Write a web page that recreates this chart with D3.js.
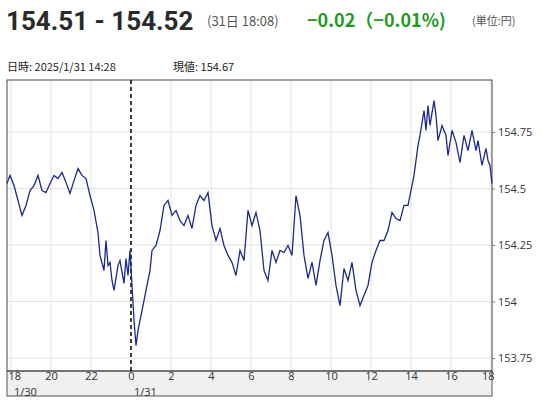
<!DOCTYPE html><html><head><meta charset="utf-8"><script src="https://cdn.jsdelivr.net/npm/d3@7"></script>
<style>body{margin:0;background:#fff;font-family:"Noto Sans CJK JP","Noto Sans",sans-serif}</style></head><body>
<svg id="c" width="541" height="400"></svg>
<script>
const hours=[0,.15,.35,.55,.75,.95,1.15,1.35,1.55,1.75,1.95,2.15,2.35,2.55,2.75,2.95,3.15,3.35,3.55,3.75,3.95,4.15,4.35,4.55,4.65,4.85,4.95,5.05,5.15,5.25,5.35,5.55,5.65,5.85,5.95,6.05,6.15,6.25,6.35,6.45,6.55,6.75,6.95,7.15,7.25,7.45,7.65,7.85,8.05,8.25,8.45,8.65,8.85,9.05,9.25,9.45,9.65,9.85,10.05,10.25,10.45,10.65,10.85,11.05,11.25,11.45,11.65,11.85,12.05,12.25,12.45,12.65,12.85,13.05,13.25,13.45,13.65,13.85,14.05,14.25,14.45,14.65,14.85,15.05,15.25,15.45,15.65,15.85,16.05,16.25,16.45,16.65,16.85,17.05,17.25,17.45,17.65,17.85,18.05,18.25,18.45,18.65,18.85,19.05,19.25,19.45,19.65,19.85,20.05,20.25,20.35,20.55,20.65,20.85,20.95,21.05,21.15,21.35,21.45,21.55,21.75,21.95,22.05,22.25,22.45,22.65,22.85,23.05,23.25,23.45,23.55,23.75,23.95,24.05,24.15,24.25];
const prices=[154.522,154.558,154.513,154.447,154.381,154.425,154.491,154.513,154.558,154.491,154.482,154.522,154.558,154.544,154.571,154.527,154.478,154.535,154.588,154.558,154.544,154.469,154.403,154.305,154.204,154.137,154.270,154.159,154.173,154.093,154.049,154.159,154.181,154.080,154.190,154.115,154.226,154.071,153.916,153.805,153.872,153.960,154.049,154.137,154.226,154.248,154.314,154.425,154.447,154.381,154.403,154.358,154.336,154.381,154.323,154.425,154.469,154.447,154.482,154.336,154.270,154.323,154.248,154.204,154.173,154.115,154.226,154.181,154.403,154.336,154.394,154.314,154.137,154.093,154.226,154.173,154.226,154.217,154.248,154.204,154.469,154.381,154.204,154.102,154.173,154.071,154.181,154.270,154.305,154.204,154.071,153.982,154.146,154.093,154.173,154.049,153.982,154.027,154.071,154.173,154.226,154.270,154.270,154.314,154.394,154.367,154.358,154.425,154.425,154.513,154.558,154.690,154.735,154.845,154.757,154.867,154.779,154.889,154.823,154.712,154.779,154.735,154.646,154.757,154.704,154.615,154.735,154.668,154.757,154.668,154.712,154.602,154.677,154.624,154.602,154.522];
const startHour=-0.2;
const xTicks=[0,2,4,6,8,10,12,14,16,18,20,22,24];
const xLabels=["18","20","22","0","2","4","6","8","10","12","14","16","18"];
const yTicks=[153.75,154,154.25,154.5,154.75];
const yLabels=["153.75","154","154.25","154.5","154.75"];
const dateLabels=[{h:0,t:"1/30"},{h:6,t:"1/31"}];
const svg=d3.select("#c");
const L=7,R=492,T=80,B=371;
const x=d3.scaleLinear().domain([startHour,24.05]).range([L,R]);
const y=d3.scaleLinear().domain([153.75,154.75]).range([358,132]);
svg.append("text").attr("x",6).attr("y",30).attr("font-size",26).attr("font-weight","bold").attr("fill","#2a2a2a").attr("font-family","Roboto,sans-serif").text("154.51 - 154.52");
svg.append("text").attr("x",207).attr("y",26).attr("font-size",13).attr("fill","#555").text("(31日 18:08)");
svg.append("text").attr("x",307).attr("y",27).attr("font-size",18).attr("font-weight","bold").attr("fill","#1f9a1f").text("−0.02（−0.01%)");
svg.append("text").attr("x",472).attr("y",25).attr("font-size",11).attr("fill","#555").text("(単位:円)");
svg.append("text").attr("x",7).attr("y",71).attr("font-size",11).attr("fill","#222").text("日時: 2025/1/31  14:28");
svg.append("text").attr("x",173).attr("y",71).attr("font-size",11).attr("fill","#222").text("現値: 154.67");
svg.append("g").selectAll("line").data(xTicks.filter(h=>h!==6)).join("line")
 .attr("x1",d=>x(d)).attr("x2",d=>x(d)).attr("y1",T).attr("y2",B).attr("stroke","#e2e2e2");
svg.append("g").selectAll("line").data(yTicks).join("line")
 .attr("x1",L).attr("x2",R).attr("y1",d=>y(d)).attr("y2",d=>y(d)).attr("stroke","#e2e2e2");
svg.append("rect").attr("x",L).attr("y",B).attr("width",R-L).attr("height",25).attr("fill","#f0f0f0").attr("stroke","#555");
const xa=d3.axisBottom(x).tickValues(xTicks).tickFormat((d,i)=>xLabels[i]).tickSize(0);
const gx=svg.append("g").attr("transform",`translate(0,${B})`).call(xa);
gx.select(".domain").remove();
gx.selectAll("text").attr("font-size",11).attr("fill","#333").attr("dy","0.55em").attr("font-family","'Open Sans',sans-serif");
gx.selectAll(".tick").filter(d=>d===0).select("text").attr("text-anchor","start").attr("dx",-3);
gx.selectAll(".tick").filter(d=>d===24).select("text").attr("text-anchor","end").attr("dx",3);
svg.selectAll(".dl").data(dateLabels).join("text").attr("x",d=>x(d.h)+3).attr("y",396).attr("font-size",11).attr("fill","#333").attr("font-family","'Open Sans',sans-serif").text(d=>d.t);
const ya=d3.axisRight(y).tickValues(yTicks).tickFormat((d,i)=>yLabels[i]).tickSize(3);
const gy=svg.append("g").attr("transform",`translate(${R},0)`).call(ya);
gy.select(".domain").remove();
gy.selectAll("line").attr("stroke","#888");
gy.selectAll("text").attr("font-size",11).attr("fill","#333").attr("font-family","'Open Sans',sans-serif");
svg.append("rect").attr("x",L).attr("y",T).attr("width",R-L).attr("height",B-T).attr("fill","none").attr("stroke","#444");
svg.append("line").attr("x1",x(6)).attr("x2",x(6)).attr("y1",T).attr("y2",B).attr("stroke","#000").attr("stroke-width",1.5).attr("stroke-dasharray","4,3");
const data=hours.map((h,i)=>[h+startHour,prices[i]]);
svg.append("path").datum(data).attr("fill","none").attr("stroke","#1c2a8c").attr("stroke-width",1.3)
 .attr("d",d3.line().x(d=>x(d[0])).y(d=>y(d[1])));
</script></body></html>
